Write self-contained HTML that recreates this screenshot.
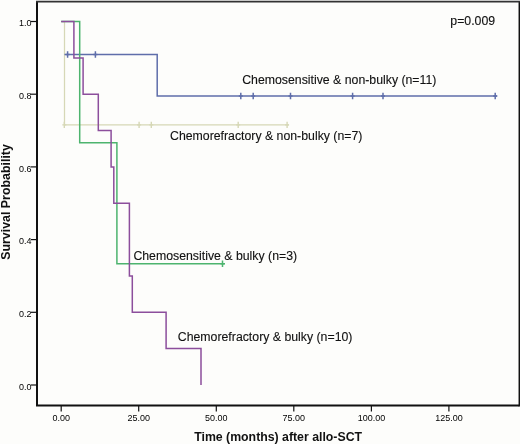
<!DOCTYPE html>
<html><head><meta charset="utf-8"><style>
html,body{margin:0;padding:0;background:#fdfdfb;}
svg{display:block;will-change:transform;}
text{font-family:"Liberation Sans",sans-serif;fill:#111;}
.tk{font-size:9px;fill:#000;}
.lb{font-size:12.3px;stroke:#111;stroke-width:0.12px;}
.lb2{font-size:12.3px;stroke:#111;stroke-width:0.12px;}
.ax{font-size:12.3px;font-weight:bold;fill:#111;}
</style></head><body>
<svg width="520" height="444" viewBox="0 0 520 444">
<rect x="0" y="0" width="520" height="444" fill="#fdfdfb"/>
<path d="M61.2 21.5 L64.5 21.5 L64.5 124.9 L289.0 124.9" stroke="#d6d8b6" stroke-width="1.25" fill="none"/><path d="M64.3 121.7 V128.1 M62.3 124.9 H66.3" stroke="#d6d8b6" stroke-width="1.4" fill="none"/><path d="M139.1 121.7 V128.1 M137.1 124.9 H141.1" stroke="#d6d8b6" stroke-width="1.4" fill="none"/><path d="M151.3 121.7 V128.1 M149.3 124.9 H153.3" stroke="#d6d8b6" stroke-width="1.4" fill="none"/><path d="M238.2 121.7 V128.1 M236.2 124.9 H240.2" stroke="#d6d8b6" stroke-width="1.4" fill="none"/><path d="M287.1 121.7 V128.1 M285.1 124.9 H289.1" stroke="#d6d8b6" stroke-width="1.4" fill="none"/><path d="M64.5 54.5 L157.2 54.5 L157.2 96.0 L497.2 96.0" stroke="#5f6eaa" stroke-width="1.5" fill="none"/><path d="M67.6 51.3 V57.7 M65.6 54.5 H69.6" stroke="#5f6eaa" stroke-width="1.5" fill="none"/><path d="M95.4 51.3 V57.7 M93.4 54.5 H97.4" stroke="#5f6eaa" stroke-width="1.5" fill="none"/><path d="M240.8 92.8 V99.2 M238.8 96.0 H242.8" stroke="#5f6eaa" stroke-width="1.5" fill="none"/><path d="M253.2 92.8 V99.2 M251.2 96.0 H255.2" stroke="#5f6eaa" stroke-width="1.5" fill="none"/><path d="M290.5 92.8 V99.2 M288.5 96.0 H292.5" stroke="#5f6eaa" stroke-width="1.5" fill="none"/><path d="M352.6 92.8 V99.2 M350.6 96.0 H354.6" stroke="#5f6eaa" stroke-width="1.5" fill="none"/><path d="M383.0 92.8 V99.2 M381.0 96.0 H385.0" stroke="#5f6eaa" stroke-width="1.5" fill="none"/><path d="M495.2 92.8 V99.2 M493.2 96.0 H497.2" stroke="#5f6eaa" stroke-width="1.5" fill="none"/><path d="M61.2 21.5 L79.7 21.5 L79.7 142.8 L116.9 142.8 L116.9 263.8 L225.0 263.8" stroke="#4db46e" stroke-width="1.5" fill="none"/><path d="M222.5 260.6 V267.0 M220.5 263.8 H224.5" stroke="#4db46e" stroke-width="1.5" fill="none"/><path d="M61.2 21.5 L73.9 21.5 L73.9 57.9 L83.1 57.9 L83.1 94.2 L98.3 94.2 L98.3 130.6 L111.1 130.6 L111.1 166.9 L113.8 166.9 L113.8 203.2 L129.4 203.2 L129.4 275.9 L132.3 275.9 L132.3 312.3 L166.1 312.3 L166.1 348.6 L201.0 348.6 L201.0 385.0" stroke="#8c4e9c" stroke-width="1.5" fill="none"/>
<path d="M37 1.5 V405.4 H519.2" stroke="#111" stroke-width="2" fill="none"/><path d="M519.3 1.5 V406.4" stroke="#111" stroke-width="1.5" fill="none"/><path d="M36 1.6 H520" stroke="#333" stroke-width="1.6" fill="none"/>
<path d="M31 21.5 H37" stroke="#111" stroke-width="1.2"/><text transform="translate(31.6 26.1) scale(1 1.09)" text-anchor="end" class="tk">1.0</text><path d="M31 94.2 H37" stroke="#111" stroke-width="1.2"/><text transform="translate(31.6 98.8) scale(1 1.09)" text-anchor="end" class="tk">0.8</text><path d="M31 166.9 H37" stroke="#111" stroke-width="1.2"/><text transform="translate(31.6 171.5) scale(1 1.09)" text-anchor="end" class="tk">0.6</text><path d="M31 239.6 H37" stroke="#111" stroke-width="1.2"/><text transform="translate(31.6 244.2) scale(1 1.09)" text-anchor="end" class="tk">0.4</text><path d="M31 312.3 H37" stroke="#111" stroke-width="1.2"/><text transform="translate(31.6 316.9) scale(1 1.09)" text-anchor="end" class="tk">0.2</text><path d="M31 385.0 H37" stroke="#111" stroke-width="1.2"/><text transform="translate(31.6 389.6) scale(1 1.09)" text-anchor="end" class="tk">0.0</text><path d="M61.2 405.4 V411.4" stroke="#111" stroke-width="1.2"/><text transform="translate(61.2 420.6) scale(1 1.1)" text-anchor="middle" class="tk">0.00</text><path d="M138.7 405.4 V411.4" stroke="#111" stroke-width="1.2"/><text transform="translate(138.7 420.6) scale(1 1.1)" text-anchor="middle" class="tk">25.00</text><path d="M216.3 405.4 V411.4" stroke="#111" stroke-width="1.2"/><text transform="translate(216.3 420.6) scale(1 1.1)" text-anchor="middle" class="tk">50.00</text><path d="M293.8 405.4 V411.4" stroke="#111" stroke-width="1.2"/><text transform="translate(293.8 420.6) scale(1 1.1)" text-anchor="middle" class="tk">75.00</text><path d="M371.4 405.4 V411.4" stroke="#111" stroke-width="1.2"/><text transform="translate(371.4 420.6) scale(1 1.1)" text-anchor="middle" class="tk">100.00</text><path d="M448.9 405.4 V411.4" stroke="#111" stroke-width="1.2"/><text transform="translate(448.9 420.6) scale(1 1.1)" text-anchor="middle" class="tk">125.00</text>
<text x="242.2" y="84.3" class="lb">Chemosensitive &amp; non-bulky (n=11)</text><text x="170.0" y="140.3" class="lb">Chemorefractory &amp; non-bulky (n=7)</text><text x="133.4" y="260.4" class="lb">Chemosensitive &amp; bulky (n=3)</text><text x="177.8" y="340.7" class="lb">Chemorefractory &amp; bulky (n=10)</text><text x="450.3" y="25.2" class="lb2">p=0.009</text><text x="194.2" y="441.2" class="ax">Time (months) after allo-SCT</text><text transform="translate(10.3 259.8) rotate(-90)" class="ax" style="font-size:12.4px">Survival Probability</text>
</svg>
</body></html>
